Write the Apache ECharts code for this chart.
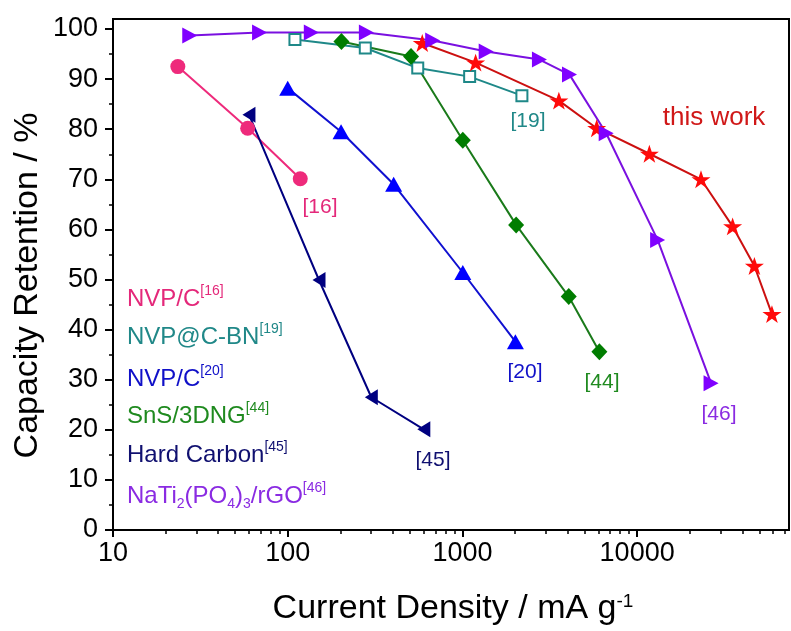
<!DOCTYPE html>
<html>
<head>
<meta charset="utf-8">
<script src="https://cdn.jsdelivr.net/npm/echarts@6/dist/echarts.min.js"></script>
<style>
html,body{margin:0;padding:0;background:#fff;}
#chart{width:791px;height:631px;}
</style>
</head>
<body>
<div id="chart"></div>
<script>
// ---------- data ----------
const seriesNames = ['NVP/C[16]', 'NVP@C-BN[19]', 'NVP/C[20]', 'SnS/3DNG[44]', 'Hard Carbon[45]', 'NaTi2(PO4)3/rGO[46]', 'this work'];

const nvpc16X = [23.5, 59, 118];
const nvpc16Y = [92.5, 80.2, 70.1];

const cbn19X = [110, 278, 555, 1100, 2190];
const cbn19Y = [97.9, 96.2, 92.2, 90.5, 86.7];

const nvpc20X = [100, 202, 404, 1005, 2010];
const nvpc20Y = [88.2, 79.5, 69.0, 51.4, 37.6];

const sns44X = [203, 508, 1005, 2030, 4060, 6080];
const sns44Y = [97.5, 94.5, 77.8, 60.9, 46.6, 35.6];

const hc45X = [60, 151, 301, 601];
const hc45Y = [82.9, 49.9, 26.5, 20.1];

const nto46X = [27.5, 69, 136.5, 282, 676, 1368, 2760, 4100, 6650, 13100, 26500];
const nto46Y = [98.7, 99.3, 99.3, 99.3, 97.7, 95.5, 93.9, 90.9, 79.2, 57.9, 29.3];

const thisX = [589, 1190, 3565, 5870, 11750, 23200, 35200, 46900, 59100];
const thisY = [97.2, 93.3, 85.7, 80.2, 75.1, 70.0, 60.6, 52.7, 43.1];

// axis ticks
const xMajorTicks = [10, 100, 1000, 10000];
const xMinorTicks = [20, 30, 40, 50, 60, 70, 80, 90,
                     200, 300, 400, 500, 600, 700, 800, 900,
                     2000, 3000, 4000, 5000, 6000, 7000, 8000, 9000,
                     20000, 30000, 40000, 50000, 60000, 70000];
const yMajorTicks = [0, 10, 20, 30, 40, 50, 60, 70, 80, 90, 100];
const yMinorTicks = [5, 15, 25, 35, 45, 55, 65, 75, 85, 95];

function zip(xs, ys) { return xs.map((x, i) => [x, ys[i]]); }

const FONT = '"Liberation Sans", Arial, sans-serif';
const STAR = 'path://M50,2 L61.8,36.2 L97.6,36.2 L68.6,57.4 L79.4,91.6 L50,70.6 L20.6,91.6 L31.4,57.4 L2.4,36.2 L38.2,36.2 Z';

const chart = echarts.init(document.getElementById('chart'), null, {renderer: 'canvas'});

function lineSeries(name, data, color, symbol, size, extra) {
  return Object.assign({
    name: name,
    type: 'line',
    xAxisIndex: 0,
    yAxisIndex: 0,
    data: data,
    symbol: symbol,
    symbolSize: size,
    showAllSymbol: true,
    lineStyle: {color: color, width: 2},
    itemStyle: {color: color, borderWidth: 0, opacity: 1},
    emphasis: {disabled: true},
    animation: false
  }, extra || {});
}

const sup = {fontSize: 14, fontFamily: FONT, verticalAlign: 'top', lineHeight: 12};
const sub = {fontSize: 14, fontFamily: FONT, verticalAlign: 'bottom', lineHeight: 12};
function legendText(y, text, color) {
  return {
    type: 'text', left: 127, top: y - 15,
    style: {
      text: text,
      fill: color,
      rich: {
        m: {fontSize: 24, fontFamily: FONT, fill: color, lineHeight: 30},
        s: Object.assign({fill: color}, sup),
        b: Object.assign({fill: color}, sub)
      }
    }
  };
}
function annot(x, y, text, color, size) {
  return {
    type: 'text', x: x, y: y,
    style: {text: text, fill: color, fontSize: size || 21, fontFamily: FONT, align: 'center', verticalAlign: 'middle'}
  };
}

const option = {
  backgroundColor: '#fff',
  animation: false,
  grid: {left: 113, right: 2, top: 19, bottom: 101, show: true, borderColor: '#000', borderWidth: 2, backgroundColor: 'transparent'},
  xAxis: [{
    type: 'log', logBase: 10, min: 10, max: 74000,
    name: 'Current Density / mA g{s|-1}',
    nameLocation: 'middle', nameGap: 62,
    nameTextStyle: {fontSize: 34, fontFamily: FONT, color: '#000', padding: [0, 0, 0, 4],
      rich: {s: {fontSize: 19, fontFamily: FONT, color: '#000', verticalAlign: 'top', lineHeight: 16}}},
    axisLine: {show: true, lineStyle: {color: '#000', width: 2}},
    axisTick: {show: true, inside: false, length: 7, lineStyle: {color: '#000', width: 2}, customValues: xMajorTicks},
    axisLabel: {show: true, margin: 10, fontSize: 27, fontFamily: FONT, color: '#000', customValues: xMajorTicks,
      formatter: v => String(Math.round(v))},
    splitLine: {show: false},
    minorTick: {show: false}
  }, {
    type: 'log', logBase: 10, min: 10, max: 74000, position: 'bottom', gridIndex: 0,
    axisLine: {show: false},
    axisTick: {show: true, inside: false, length: 4, lineStyle: {color: '#000', width: 1.5}, customValues: xMinorTicks},
    axisLabel: {show: false},
    splitLine: {show: false}
  }],
  yAxis: [{
    type: 'value', min: 0, max: 102,
    name: 'Capacity Retention / %',
    nameLocation: 'middle', nameGap: 68, nameRotate: 90, nameMoveOverlap: false,
    nameTextStyle: {fontSize: 34, fontFamily: FONT, color: '#000', padding: [0, 22, 0, 0]},
    axisLine: {show: true, lineStyle: {color: '#000', width: 2}},
    axisTick: {show: true, inside: false, length: 8, lineStyle: {color: '#000', width: 2}, customValues: yMajorTicks},
    axisLabel: {show: true, margin: 15, fontSize: 27, fontFamily: FONT, color: '#000', customValues: yMajorTicks},
    splitLine: {show: false}
  }, {
    type: 'value', min: 0, max: 102, position: 'left', gridIndex: 0,
    axisLine: {show: false},
    axisTick: {show: true, inside: false, length: 4, lineStyle: {color: '#000', width: 1.5}, customValues: yMinorTicks},
    axisLabel: {show: false},
    splitLine: {show: false}
  }],
  series: [
    lineSeries(seriesNames[0], zip(nvpc16X, nvpc16Y), '#ee2a7b', 'circle', 15),
    lineSeries(seriesNames[1], zip(cbn19X, cbn19Y), '#1e8888', 'rect', [11, 11],
      {itemStyle: {color: '#fff', borderColor: '#1e8888', borderWidth: 2}}),
    lineSeries(seriesNames[2], zip(nvpc20X, nvpc20Y), '#0000ff', 'triangle', [17, 15],
      {lineStyle: {color: '#1010d0', width: 2}}),
    lineSeries(seriesNames[3], zip(sns44X, sns44Y), '#007d00', 'diamond', [16, 17],
      {lineStyle: {color: '#1a7a1a', width: 2}}),
    lineSeries(seriesNames[4], zip(hc45X, hc45Y), '#000080', 'triangle', [16, 13],
      {symbolRotate: 90}),
    lineSeries(seriesNames[6], zip(thisX, thisY), '#ff0a0a', STAR, 19,
      {symbolKeepAspect: true, lineStyle: {color: '#cc1010', width: 2}}),
    lineSeries(seriesNames[5], zip(nto46X, nto46Y), '#8000ff', 'triangle', [16, 15],
      {symbolRotate: -90, lineStyle: {color: '#7a10e0', width: 2}})
  ],
  graphic: [
    legendText(299, '{m|NVP/C}{s|[16]}', '#e4287a'),
    legendText(337.5, '{m|NVP@C-BN}{s|[19]}', '#208888'),
    legendText(379.5, '{m|NVP/C}{s|[20]}', '#1010c8'),
    legendText(416, '{m|SnS/3DNG}{s|[44]}', '#1f8a1f'),
    legendText(455, '{m|Hard Carbon}{s|[45]}', '#101070'),
    legendText(496, '{m|NaTi}{b|2}{m|(PO}{b|4}{m|)}{b|3}{m|/rGO}{s|[46]}', '#8a2be2'),
    annot(320, 207, '[16]', '#e4287a'),
    annot(528, 121, '[19]', '#208888'),
    annot(714, 118, 'this work', '#d01818', 26),
    annot(525, 372, '[20]', '#1010c8'),
    annot(602, 382, '[44]', '#1f8a1f'),
    annot(719, 414, '[46]', '#8a2be2'),
    annot(433, 460, '[45]', '#101070')
  ]
};
chart.setOption(option);
</script>
</body>
</html>
